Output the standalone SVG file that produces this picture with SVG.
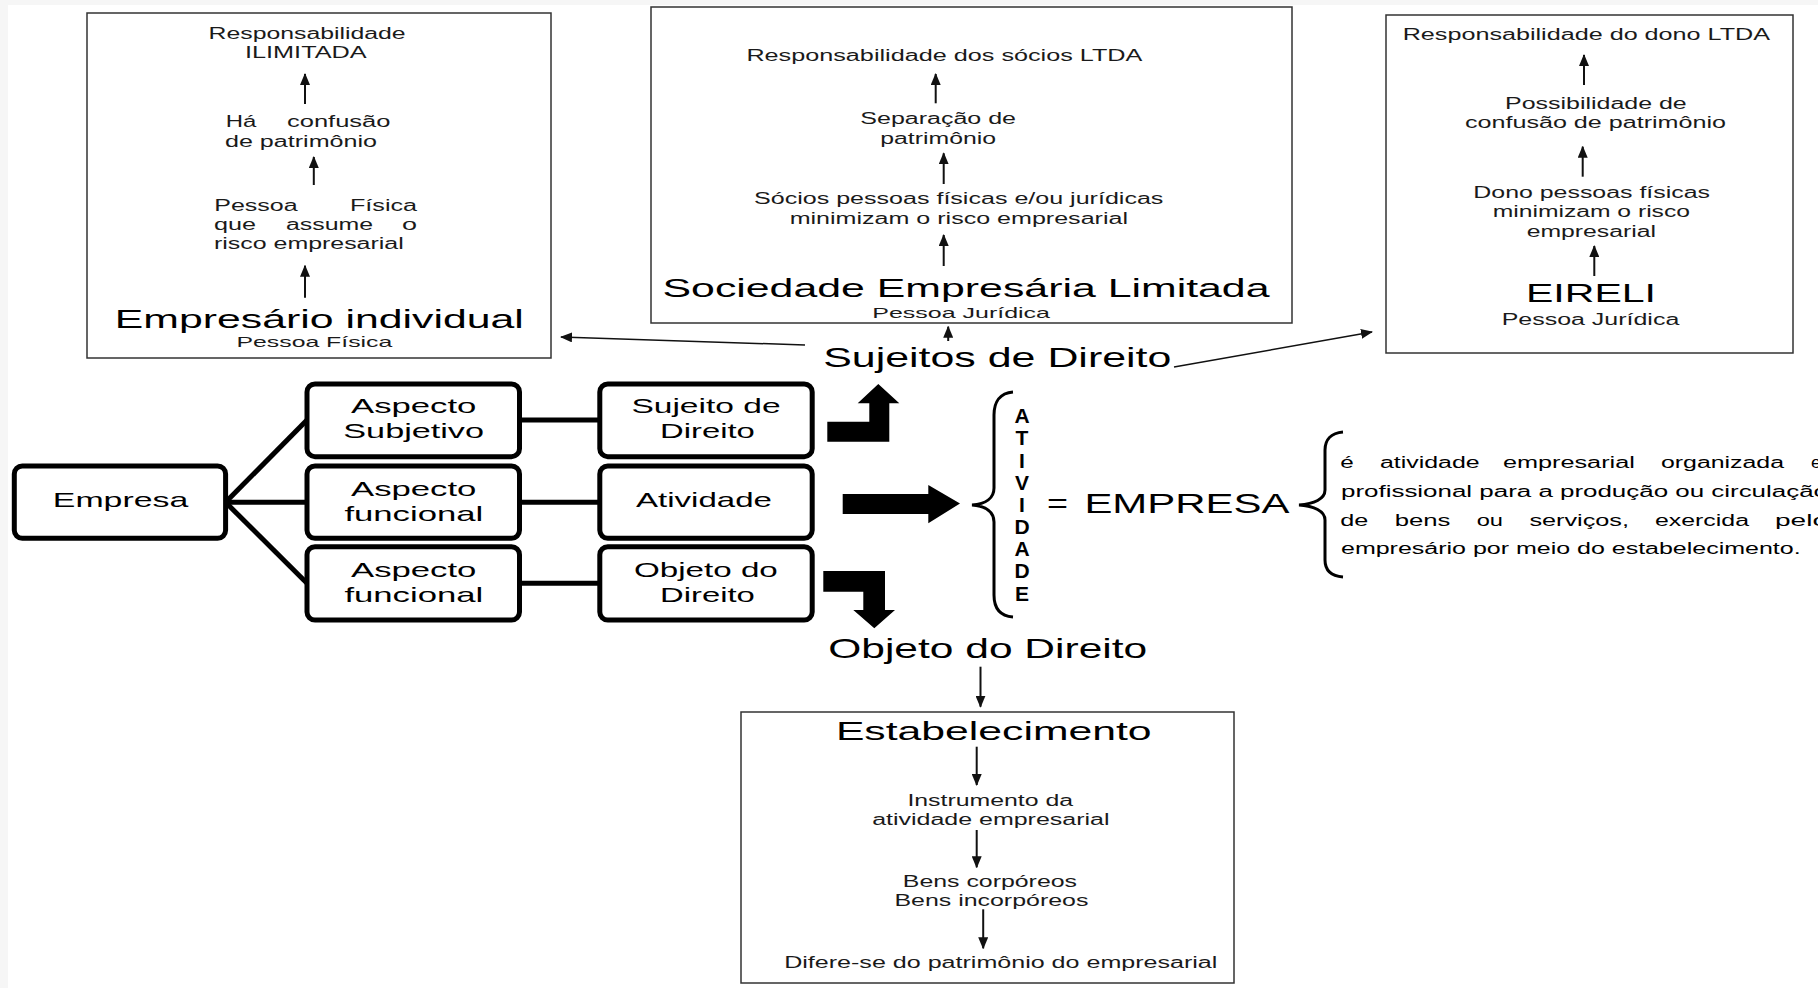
<svg xmlns="http://www.w3.org/2000/svg" width="1818" height="988" viewBox="0 0 1818 988">
<style>
text{font-family:"Liberation Sans",Arial,sans-serif;fill:#1a1a1a;}
.s{font-size:16px;}
.xs{font-size:15px;}
.t{font-size:25px;fill:#000;}
.m{font-size:21px;fill:#000;}
.l{font-size:28px;fill:#000;}
.b{font-size:21px;font-weight:bold;fill:#000;text-anchor:middle;}
.p{font-size:16px;fill:#000;}
.frame{fill:#fff;stroke:#333;stroke-width:1.5;}
.rbox{fill:#fff;stroke:#000;stroke-width:5;}
.ln{stroke:#000;stroke-width:5;fill:none;}
.ar{stroke:#111;stroke-width:2;fill:none;marker-end:url(#ah);}
.ar2{stroke:#111;stroke-width:1.5;fill:none;marker-end:url(#ah);}
.blk{fill:#000;}
.br{fill:none;stroke:#000;stroke-width:3;}
</style>
<defs>
<marker id="ah" viewBox="0 0 12 10" refX="11" refY="5" markerWidth="12" markerHeight="10" markerUnits="userSpaceOnUse" orient="auto">
<path d="M0,0 L12,5 L0,10 z" fill="#111"/>
</marker>
</defs>
<rect x="0" y="0" width="1818" height="988" fill="#fff"/>
<rect x="0" y="0" width="1818" height="5" fill="#f6f6f6"/>
<rect x="0" y="0" width="8" height="988" fill="#f6f6f6"/>

<g id="empresario-individual">
<rect class="frame" x="87" y="13" width="464" height="345"/>
<text class="s" x="208.6" y="39" textLength="197" lengthAdjust="spacingAndGlyphs">Responsabilidade</text>
<text class="s" x="245" y="58.3" textLength="121.6" lengthAdjust="spacingAndGlyphs">ILIMITADA</text>
<text class="s" x="225.8" y="126.7" textLength="30.6" lengthAdjust="spacingAndGlyphs">Há</text>
<text class="s" x="287" y="126.7" textLength="103.4" lengthAdjust="spacingAndGlyphs">confusão</text>
<text class="s" x="225" y="146.7" textLength="152" lengthAdjust="spacingAndGlyphs">de patrimônio</text>
<text class="s" x="214.3" y="210.7" textLength="83.4" lengthAdjust="spacingAndGlyphs">Pessoa</text>
<text class="s" x="350" y="210.7" textLength="67" lengthAdjust="spacingAndGlyphs">Física</text>
<text class="s" x="214" y="230" textLength="42" lengthAdjust="spacingAndGlyphs">que</text>
<text class="s" x="286" y="230" textLength="87" lengthAdjust="spacingAndGlyphs">assume</text>
<text class="s" x="402" y="230" textLength="15" lengthAdjust="spacingAndGlyphs">o</text>
<text class="s" x="214" y="249.3" textLength="189.7" lengthAdjust="spacingAndGlyphs">risco empresarial</text>
<text class="t" x="114.8" y="328.3" textLength="409" lengthAdjust="spacingAndGlyphs">Empresário individual</text>
<text class="xs" x="236.5" y="346.7" textLength="155.8" lengthAdjust="spacingAndGlyphs">Pessoa Física</text>
</g>

<g id="sociedade-limitada">
<rect class="frame" x="651" y="7" width="641" height="316"/>
<text class="s" x="746.4" y="60.7" textLength="396" lengthAdjust="spacingAndGlyphs">Responsabilidade dos sócios LTDA</text>
<text class="s" x="860.3" y="124" textLength="155.7" lengthAdjust="spacingAndGlyphs">Separação de</text>
<text class="s" x="880.3" y="144" textLength="115.7" lengthAdjust="spacingAndGlyphs">patrimônio</text>
<text class="s" x="754" y="204" textLength="409.4" lengthAdjust="spacingAndGlyphs">Sócios pessoas físicas e/ou jurídicas</text>
<text class="s" x="789.7" y="224" textLength="338.3" lengthAdjust="spacingAndGlyphs">minimizam o risco empresarial</text>
<text class="t" x="662.5" y="296.7" textLength="607" lengthAdjust="spacingAndGlyphs">Sociedade Empresária Limitada</text>
<text class="xs" x="872.3" y="318.3" textLength="177.7" lengthAdjust="spacingAndGlyphs">Pessoa Jurídica</text>
</g>

<g id="eireli">
<rect class="frame" x="1386" y="15" width="407" height="338"/>
<text class="s" x="1402.7" y="40" textLength="367.3" lengthAdjust="spacingAndGlyphs">Responsabilidade do dono LTDA</text>
<text class="s" x="1505" y="109.3" textLength="181.7" lengthAdjust="spacingAndGlyphs">Possibilidade de</text>
<text class="s" x="1465" y="128.3" textLength="261" lengthAdjust="spacingAndGlyphs">confusão de patrimônio</text>
<text class="s" x="1473.3" y="198.3" textLength="236.7" lengthAdjust="spacingAndGlyphs">Dono pessoas físicas</text>
<text class="s" x="1492.7" y="217.3" textLength="197.3" lengthAdjust="spacingAndGlyphs">minimizam o risco</text>
<text class="s" x="1526.7" y="236.7" textLength="129.3" lengthAdjust="spacingAndGlyphs">empresarial</text>
<text class="t" x="1526" y="301.7" textLength="130" lengthAdjust="spacingAndGlyphs">EIRELI</text>
<text class="s" x="1501.7" y="325" textLength="177.6" lengthAdjust="spacingAndGlyphs">Pessoa Jurídica</text>
</g>

<g id="sujeitos-de-direito">
<text class="l" x="823.2" y="367" textLength="348.2" lengthAdjust="spacingAndGlyphs">Sujeitos de Direito</text>
</g>

<g id="empresa">
<rect class="rbox" x="14.3" y="466" width="211.3" height="72.3" rx="8"/>
<text class="m" x="52.8" y="507.3" textLength="135.5" lengthAdjust="spacingAndGlyphs">Empresa</text>
</g>
<g id="aspecto-subjetivo">
<rect class="rbox" x="307" y="384" width="212.5" height="72.7" rx="8"/>
<text class="m" x="351" y="413.3" textLength="125.4" lengthAdjust="spacingAndGlyphs">Aspecto</text>
<text class="m" x="343.3" y="438.3" textLength="140.7" lengthAdjust="spacingAndGlyphs">Subjetivo</text>
</g>
<g id="aspecto-funcional-1">
<rect class="rbox" x="307" y="466" width="212.5" height="72.3" rx="8"/>
<text class="m" x="351" y="496" textLength="125.4" lengthAdjust="spacingAndGlyphs">Aspecto</text>
<text class="m" x="344.4" y="520.7" textLength="138.9" lengthAdjust="spacingAndGlyphs">funcional</text>
</g>
<g id="aspecto-funcional-2">
<rect class="rbox" x="307" y="546.7" width="212.5" height="73.3" rx="8"/>
<text class="m" x="351" y="577.3" textLength="125.4" lengthAdjust="spacingAndGlyphs">Aspecto</text>
<text class="m" x="344.4" y="601.7" textLength="138.9" lengthAdjust="spacingAndGlyphs">funcional</text>
</g>
<g id="sujeito-de-direito">
<rect class="rbox" x="599.8" y="384" width="212.4" height="72.7" rx="8"/>
<text class="m" x="631.4" y="413.3" textLength="149.2" lengthAdjust="spacingAndGlyphs">Sujeito de</text>
<text class="m" x="660" y="438.3" textLength="94.8" lengthAdjust="spacingAndGlyphs">Direito</text>
</g>
<g id="atividade">
<rect class="rbox" x="599.8" y="466" width="212.4" height="72.3" rx="8"/>
<text class="m" x="636" y="507.3" textLength="136" lengthAdjust="spacingAndGlyphs">Atividade</text>
</g>
<g id="objeto-do-direito">
<rect class="rbox" x="599.8" y="546.7" width="212.4" height="73.3" rx="8"/>
<text class="m" x="634" y="577.3" textLength="143.8" lengthAdjust="spacingAndGlyphs">Objeto do</text>
<text class="m" x="660" y="601.7" textLength="94.8" lengthAdjust="spacingAndGlyphs">Direito</text>
</g>

<g id="atividade-vertical">
<path class="br" d="M1013,392 C1000,393 994,402 994,415 L994,488 C994,498 986,504 972,505 C986,506 994,512 994,522 L994,595 C994,608 1000,616 1013,617"/>
<text class="b" x="1022" y="423">A</text>
<text class="b" x="1022" y="445.3">T</text>
<text class="b" x="1022" y="467.7">I</text>
<text class="b" x="1022" y="489.5">V</text>
<text class="b" x="1022" y="511.7">I</text>
<text class="b" x="1022" y="533.5">D</text>
<text class="b" x="1022" y="556">A</text>
<text class="b" x="1022" y="578">D</text>
<text class="b" x="1022" y="600.7">E</text>
</g>

<g id="igual-empresa">
<text class="l" x="1047" y="513.3" textLength="21" lengthAdjust="spacingAndGlyphs">=</text>
<text class="l" x="1084.4" y="513.3" textLength="205" lengthAdjust="spacingAndGlyphs">EMPRESA</text>
</g>

<g id="definicao">
<path class="br" d="M1343,432 C1331,433 1325,440 1325,450 L1325,490 C1325,499 1314,504 1299,505 C1314,506 1325,511 1325,520 L1325,560 C1325,570 1331,576 1343,577"/>
<text class="p" x="1340.3" y="468" textLength="13.5" lengthAdjust="spacingAndGlyphs">é</text>
<text class="p" x="1380" y="468" textLength="99.6" lengthAdjust="spacingAndGlyphs">atividade</text>
<text class="p" x="1503" y="468" textLength="131.8" lengthAdjust="spacingAndGlyphs">empresarial</text>
<text class="p" x="1661" y="468" textLength="123" lengthAdjust="spacingAndGlyphs">organizada</text>
<text class="p" x="1811" y="468" textLength="10" lengthAdjust="spacingAndGlyphs">e</text>
<text class="p" x="1341" y="497" textLength="487" lengthAdjust="spacingAndGlyphs">profissional para a produção ou circulação</text>
<text class="p" x="1340.3" y="525.5" textLength="28" lengthAdjust="spacingAndGlyphs">de</text>
<text class="p" x="1394.7" y="525.5" textLength="55.7" lengthAdjust="spacingAndGlyphs">bens</text>
<text class="p" x="1476.7" y="525.5" textLength="26.3" lengthAdjust="spacingAndGlyphs">ou</text>
<text class="p" x="1529.4" y="525.5" textLength="99.6" lengthAdjust="spacingAndGlyphs">serviços,</text>
<text class="p" x="1655" y="525.5" textLength="94" lengthAdjust="spacingAndGlyphs">exercida</text>
<text class="p" x="1775" y="525.5" textLength="53" lengthAdjust="spacingAndGlyphs">pelo</text>
<text class="p" x="1341" y="554" textLength="459.6" lengthAdjust="spacingAndGlyphs">empresário por meio do estabelecimento.</text>
</g>

<g id="objeto-do-direito-titulo">
<text class="l" x="828.2" y="658.3" textLength="319" lengthAdjust="spacingAndGlyphs">Objeto do Direito</text>
</g>

<g id="estabelecimento">
<rect class="frame" x="741" y="712" width="493" height="271"/>
<text class="t" x="835.9" y="740" textLength="315.7" lengthAdjust="spacingAndGlyphs">Estabelecimento</text>
<text class="s" x="907.4" y="806" textLength="165.7" lengthAdjust="spacingAndGlyphs">Instrumento da</text>
<text class="s" x="872.2" y="825" textLength="237.3" lengthAdjust="spacingAndGlyphs">atividade empresarial</text>
<text class="s" x="902.8" y="886.7" textLength="174.2" lengthAdjust="spacingAndGlyphs">Bens corpóreos</text>
<text class="s" x="894.4" y="906" textLength="194" lengthAdjust="spacingAndGlyphs">Bens incorpóreos</text>
<text class="s" x="784.2" y="968.3" textLength="433.2" lengthAdjust="spacingAndGlyphs">Difere-se do patrimônio do empresarial</text>
</g>

<g id="connectors">
<line class="ln" x1="225.6" y1="502.3" x2="307" y2="420"/>
<line class="ln" x1="225.6" y1="502.3" x2="307" y2="502.3"/>
<line class="ln" x1="225.6" y1="502.3" x2="307" y2="583.3"/>
<line class="ln" x1="519.5" y1="420" x2="599.8" y2="420"/>
<line class="ln" x1="519.5" y1="502.3" x2="599.8" y2="502.3"/>
<line class="ln" x1="519.5" y1="583.3" x2="599.8" y2="583.3"/>
<polygon class="blk" points="827.3,421.7 827.3,441.7 889.3,441.7 889.3,403.3 899.3,403.3 878.3,384 857.7,403.3 869.3,403.3 869.3,421.7"/>
<polygon class="blk" points="842.7,494 928.3,494 928.3,485 960,503.5 928.3,523.3 928.3,514 842.7,514"/>
<polygon class="blk" points="823.3,571 885,571 885,610 895,610 874.3,628.3 853.3,610 863.3,610 863.3,591.7 823.3,591.7"/>
<line class="ar" x1="305" y1="104" x2="305" y2="74"/>
<line class="ar" x1="313.8" y1="185" x2="313.8" y2="157"/>
<line class="ar" x1="305" y1="297.7" x2="305" y2="265.7"/>
<line class="ar" x1="935.7" y1="103.3" x2="935.7" y2="74"/>
<line class="ar" x1="943.7" y1="184" x2="943.7" y2="153.3"/>
<line class="ar" x1="943.7" y1="266" x2="943.7" y2="235"/>
<line class="ar" x1="1584" y1="85" x2="1584" y2="55"/>
<line class="ar" x1="1582.7" y1="176.7" x2="1582.7" y2="146.7"/>
<line class="ar" x1="1594.3" y1="276" x2="1594.3" y2="246"/>
<line class="ar" x1="948.2" y1="341" x2="948.2" y2="326.7"/>
<line class="ar2" x1="805" y1="345" x2="561" y2="337"/>
<line class="ar2" x1="1174" y1="367" x2="1372" y2="332"/>
<line class="ar" x1="980.5" y1="666.7" x2="980.5" y2="706.7"/>
<line class="ar" x1="976.7" y1="746.7" x2="976.7" y2="785"/>
<line class="ar" x1="976.7" y1="830" x2="976.7" y2="867.3"/>
<line class="ar" x1="983.2" y1="909.3" x2="983.2" y2="948.3"/>
</g>
</svg>
